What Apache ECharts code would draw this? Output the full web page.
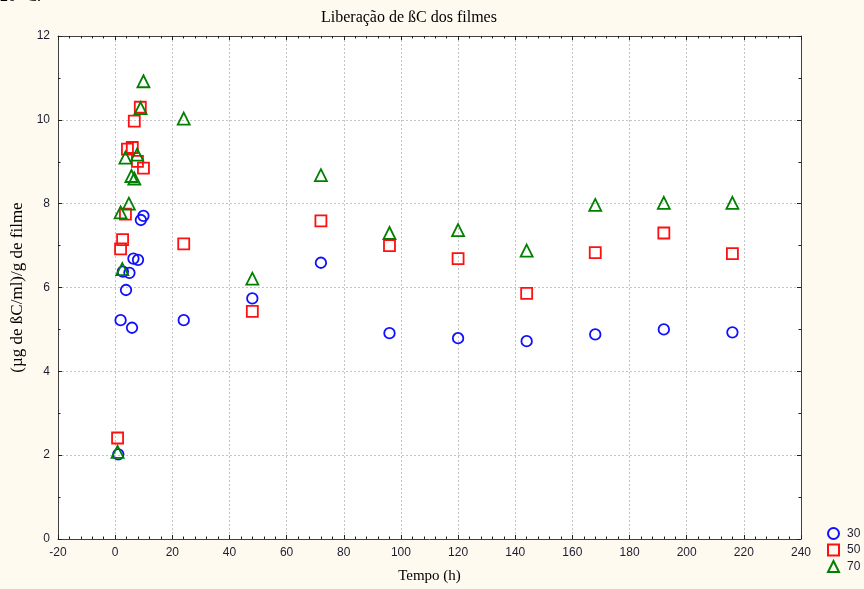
<!DOCTYPE html>
<html>
<head>
<meta charset="utf-8">
<script src="https://cdn.jsdelivr.net/npm/echarts@6/dist/echarts.min.js"></script>
<style>
html,body{margin:0;padding:0;background:#fffaf0;}
#c{width:864px;height:589px;}
</style>
</head>
<body>
<div id="c"></div>
<script>
// Data
var seriesNames = ['30', '50', '70'];
var time30 = [1.1, 1.9, 2.7, 3.8, 5.0, 5.9, 6.4, 8.0, 9.0, 9.9, 24, 48, 72, 96, 120, 144, 168, 192, 216];
var val30  = [2.02, 5.22, 6.38, 5.94, 6.35, 5.04, 6.69, 6.66, 7.61, 7.71, 5.22, 5.74, 6.59, 4.91, 4.79, 4.72, 4.88, 5.00, 4.93];
var time50 = [0.85, 1.9, 2.6, 3.6, 4.3, 6.0, 6.7, 7.8, 8.8, 9.9, 24, 48, 72, 96, 120, 144, 168, 192, 216];
var val50  = [2.41, 6.92, 7.14, 7.75, 9.30, 9.34, 9.97, 9.01, 10.30, 8.85, 7.04, 5.43, 7.59, 7.00, 6.69, 5.86, 6.83, 7.30, 6.81];
var time70 = [0.85, 1.9, 2.5, 3.6, 4.8, 5.7, 6.7, 7.7, 8.9, 9.9, 24, 48, 72, 96, 120, 144, 168, 192, 216];
var val70  = [2.08, 7.79, 6.44, 9.10, 8.00, 8.66, 8.60, 9.17, 10.28, 10.92, 10.03, 6.21, 8.68, 7.30, 7.37, 6.88, 7.97, 8.02, 8.02];

function pairs(t, v) { return t.map(function (x, i) { return [x, v[i]]; }); }

var serif = '"Liberation Serif","Times New Roman",serif';
var sans = '"Liberation Sans",Arial,sans-serif';
var labelColor = '#1c1c30';

var chart = echarts.init(document.getElementById('c'));
var baseX = {
  type: 'value', min: -20, max: 240, interval: 20,
  axisLine: {show: true, onZero: false, lineStyle: {color: '#404040', width: 1}},
  axisTick: {show: true, inside: true, length: 4, lineStyle: {color: '#202020'}},
  minorTick: {show: true, splitNumber: 5, length: 2.5, lineStyle: {color: '#202020'}},
};
var baseY = {
  type: 'value', min: 0, max: 12, interval: 2,
  axisLine: {show: true, onZero: false, lineStyle: {color: '#404040', width: 1}},
  axisTick: {show: true, inside: true, length: 4, lineStyle: {color: '#202020'}},
  minorTick: {show: true, splitNumber: 2, length: 2.5, lineStyle: {color: '#202020'}},
};

function sym(shape, color, size) {
  return {
    type: 'scatter', symbol: shape, symbolSize: size,
    itemStyle: {color: 'rgba(0,0,0,0)', borderColor: color, borderWidth: 1.8, opacity: 1},
    emphasis: {disabled: true}
  };
}

var s30 = sym('circle', '#1010ff', 10.5);
s30.name = seriesNames[0]; s30.data = pairs(time30, val30);
var s50 = sym('rect', '#ff1010', 11);
s50.name = seriesNames[1]; s50.data = pairs(time50, val50);
var s70 = sym('triangle', '#008000', 12);
s70.name = seriesNames[2]; s70.data = pairs(time70, val70);

chart.setOption({
  backgroundColor: '#fffaf0',
  animation: false,
  title: {
    text: 'Liberação de ßC dos filmes', left: 316, top: 5,
    textStyle: {fontFamily: serif, fontSize: 16, fontWeight: 'normal', color: '#000'}
  },
  graphic: [{
    type: 'text', left: 0, top: -11,
    style: {text: '20 °C.', font: '16px ' + serif, fill: '#000'}
  }],
  legend: {
    orient: 'vertical', left: 822, top: 522, itemGap: 3.5, itemWidth: 11, itemHeight: 11,
    data: seriesNames,
    textStyle: {fontFamily: sans, fontSize: 12, color: labelColor, padding: [0, 0, 0, 3]}
  },
  grid: {left: 58, right: 63, top: 36, bottom: 48, show: true, backgroundColor: '#ffffff', borderWidth: 0},
  xAxis: [
    Object.assign({}, baseX, {
      position: 'bottom',
      name: 'Tempo (h)', nameLocation: 'middle', nameGap: 30,
      nameTextStyle: {fontFamily: serif, fontSize: 15, color: '#000'},
      axisLabel: {fontFamily: sans, fontSize: 12, color: labelColor, margin: 8},
      splitLine: {show: true, lineStyle: {color: '#c4c4c4', type: [2, 2], width: 1}}
    }),
    Object.assign({}, baseX, {
      position: 'top', axisLabel: {show: false}, splitLine: {show: false}
    })
  ],
  yAxis: [
    Object.assign({}, baseY, {
      position: 'left',
      name: '(µg de ßC/ml)/g de filme', nameLocation: 'middle', nameGap: 32,
      nameTextStyle: {fontFamily: serif, fontSize: 17, color: '#000'},
      axisLabel: {fontFamily: sans, fontSize: 12, color: labelColor, margin: 8},
      splitLine: {show: true, lineStyle: {color: '#c4c4c4', type: [2, 2], width: 1}}
    }),
    Object.assign({}, baseY, {
      position: 'right', axisLabel: {show: false}, splitLine: {show: false}
    })
  ],
  series: [s30, s50, s70]
});
</script>
</body>
</html>
